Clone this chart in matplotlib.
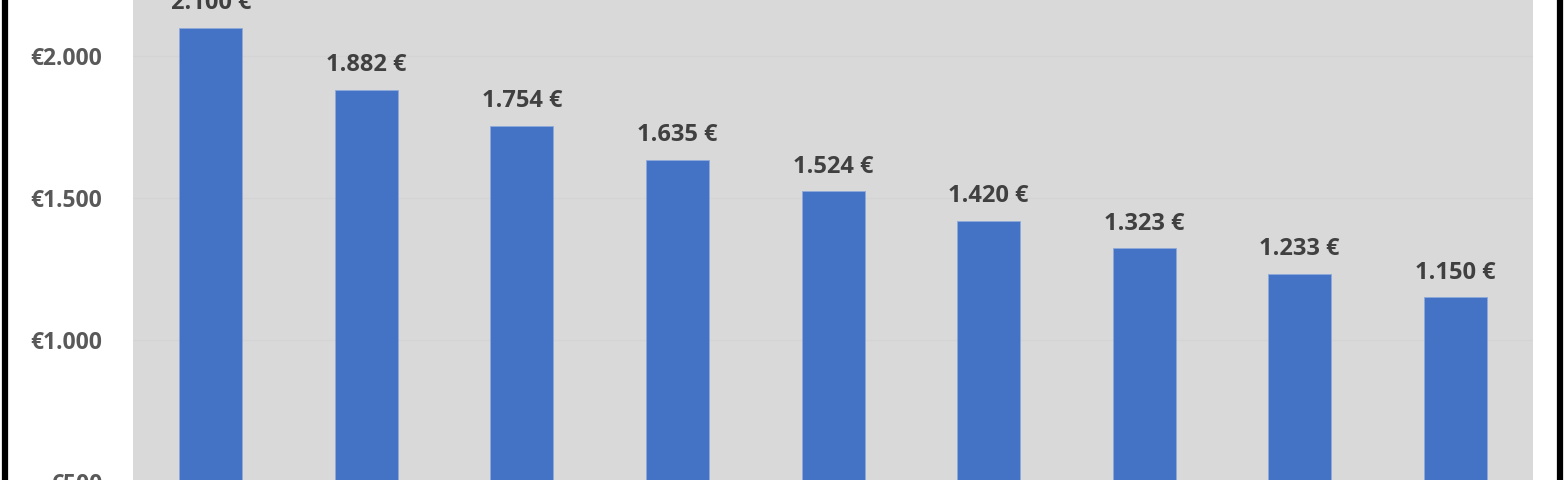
import matplotlib

matplotlib.use("Agg")
import matplotlib.pyplot as plt
from matplotlib.lines import Line2D

values = [2100, 1882, 1754, 1635, 1524, 1420, 1323, 1233, 1150]
y_ticks = [500, 1000, 1500, 2000]


def euro_label(v):
    return f"{v:,}".replace(",", ".") + " €"


def euro_tick(v):
    return "€" + f"{v:,}".replace(",", ".")


W, H = 1567, 480
fig = plt.figure(figsize=(W / 100, H / 100), dpi=100)

# plot area runs past the top and bottom of the picture (cropped chart)
y_lo, y_hi = 0, 2500
px_per_unit = 142.0 / 500
top_px = 56 - (y_hi - 2000) * px_per_unit
bot_px = 56 + (2000 - y_lo) * px_per_unit
left_px, right_px = 133, 1533
ax = fig.add_axes([left_px / W, (H - bot_px) / H, (right_px - left_px) / W, (bot_px - top_px) / H])
ax.set_facecolor("#D9D9D9")

x = list(range(len(values)))
ax.bar(x, values, width=0.405, color="#4472C4", edgecolor="#8EA9DB", linewidth=0.6, zorder=3)
for xi, v in zip(x, values):
    ax.annotate(euro_label(v), (xi, v), xytext=(0, 9), textcoords="offset points",
                ha="center", va="bottom", fontsize=17, fontweight="bold",
                family="Open Sans", color="#404040")

ax.set_xlim(-0.5, len(values) - 0.5)
ax.set_ylim(y_lo, y_hi)
ax.set_yticks(y_ticks)
ax.set_yticklabels([euro_tick(t) for t in y_ticks], fontsize=16.5, fontweight="bold",
                   family="Open Sans", color="#595959")
ax.set_xticks([])
ax.tick_params(axis="y", length=0, pad=22)
ax.grid(axis="y", color="#D4D4D4", linewidth=1.0, zorder=0)
for spine in ax.spines.values():
    spine.set_visible(False)

# black outer frame (only the sides survive the crop)
for xf in (5 / W, 1560 / W):
    fig.add_artist(Line2D([xf, xf], [0, 1], transform=fig.transFigure, color="black", linewidth=4.5))

fig.savefig("out.png", dpi=100)
plt.close(fig)
